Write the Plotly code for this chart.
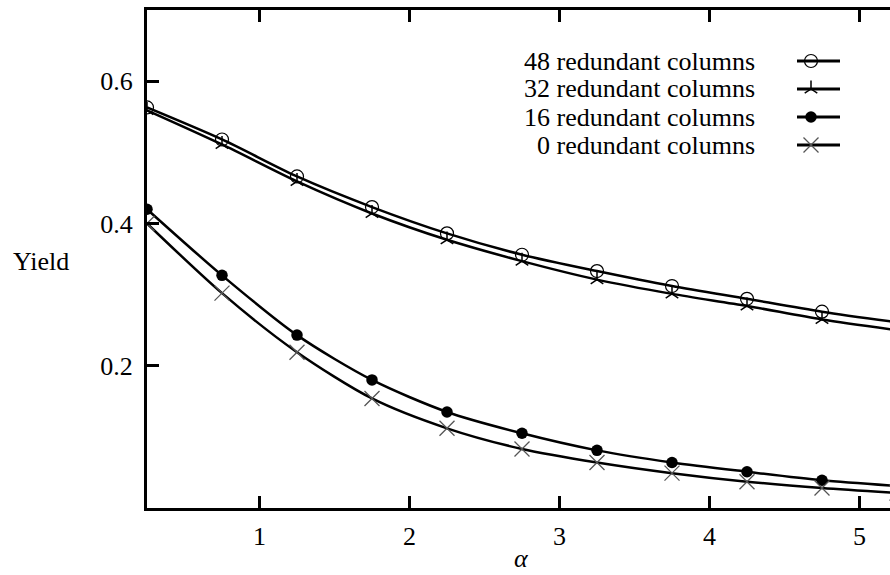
import plotly.graph_objects as go

# ---- data ----
alpha = [0.25, 0.75, 1.25, 1.75, 2.25, 2.75, 3.25, 3.75, 4.25, 4.75, 5.25]
yield_48 = [0.563, 0.518, 0.466, 0.423, 0.386, 0.356, 0.333, 0.312, 0.294, 0.276, 0.261]
yield_32 = [0.559, 0.511, 0.459, 0.414, 0.377, 0.347, 0.321, 0.301, 0.284, 0.265, 0.250]
yield_16 = [0.420, 0.327, 0.243, 0.180, 0.135, 0.105, 0.081, 0.064, 0.051, 0.039, 0.031]
yield_0 = [0.400, 0.302, 0.219, 0.154, 0.112, 0.083, 0.064, 0.049, 0.037, 0.028, 0.021]
series_names = ["48 redundant columns", "32 redundant columns",
                "16 redundant columns", "0 redundant columns"]
x_ticks = [1, 2, 3, 4, 5]
y_ticks = [0.2, 0.4, 0.6]

# ---- layout constants (pixels) ----
W, H = 890, 575
L, T, B = 147, 10, 67
PW, PH = W - L, H - T - B
X0 = 0.25
PX_PER_X = 150.0
x_range = [X0, X0 + PW / PX_PER_X]
y_range = [0, 0.7]
FONT = "Liberation Serif, Times New Roman, Times, serif"
FS = 26

def px2paper_x(px):
    return (px - L) / PW

def px2paper_y(py):
    return (H - B - py) / PH

styles = [
    dict(symbol="circle-open", size=13, color="black", line=dict(color="black", width=1.2)),
    dict(symbol="y-up", size=10.5, color="black", line=dict(color="black", width=1.5)),
    dict(symbol="circle", size=11.5, color="black", line=dict(color="black", width=0)),
    dict(symbol="x-thin", size=15, color="#555555", line=dict(color="#555555", width=1.3)),
]
series = [yield_48, yield_32, yield_16, yield_0]

fig = go.Figure()
for name, ys, st in zip(series_names, series, styles):
    fig.add_trace(go.Scatter(
        x=alpha, y=ys, mode="lines+markers", name=name,
        line=dict(color="black", width=2.5, shape="spline", smoothing=0.8),
        marker=st, showlegend=False,
    ))

# ---- custom gnuplot-style key (text then sample) ----
key_rows_y = [61, 89, 117, 145]
key_text_right = 757
key_line = (797, 840)
key_marker_x = 811
for name, st, ry in zip(series_names, styles, key_rows_y):
    fig.add_annotation(
        x=px2paper_x(key_text_right), y=px2paper_y(ry), xref="paper", yref="paper",
        text=name, showarrow=False, xanchor="right", yanchor="middle",
        font=dict(family=FONT, size=FS, color="black"),
    )
    fig.add_trace(go.Scatter(
        x=[px2paper_x(key_line[0]), px2paper_x(key_line[1])],
        y=[px2paper_y(ry), px2paper_y(ry)],
        mode="lines", line=dict(color="black", width=3),
        xaxis="x3", yaxis="y3", showlegend=False, hoverinfo="skip",
    ))
    fig.add_trace(go.Scatter(
        x=[px2paper_x(key_marker_x)], y=[px2paper_y(ry)],
        mode="markers", marker=st,
        xaxis="x3", yaxis="y3", showlegend=False, hoverinfo="skip",
    ))

# axis labels
fig.add_annotation(x=px2paper_x(11), y=px2paper_y(261), xref="paper", yref="paper",
                   text="Yield", showarrow=False, xanchor="left", yanchor="middle",
                   font=dict(family=FONT, size=FS, color="black"))
fig.add_annotation(x=px2paper_x(521), y=px2paper_y(575), xref="paper", yref="paper",
                   text="<i>α</i>", showarrow=False, xanchor="center", yanchor="bottom",
                   font=dict(family=FONT, size=FS, color="black"))

fig.update_layout(
    width=W, height=H,
    margin=dict(l=L, r=0, t=T, b=B, autoexpand=False),
    paper_bgcolor="white", plot_bgcolor="white",
    font=dict(family=FONT, size=FS, color="black"),
    showlegend=False,
    xaxis=dict(range=x_range, tickvals=x_ticks, ticktext=[str(v) for v in x_ticks],
               showgrid=False, zeroline=False, showline=True, linecolor="black",
               linewidth=3, mirror="ticks", ticks="inside", ticklen=12, tickwidth=2.5,
               tickcolor="black", ticklabelstandoff=3,
               tickfont=dict(family=FONT, size=FS, color="black")),
    yaxis=dict(range=y_range, tickvals=y_ticks, ticktext=[str(v) for v in y_ticks],
               showgrid=False, zeroline=False, showline=True, linecolor="black",
               linewidth=3, mirror=False, ticks="inside", ticklen=12, tickwidth=2.5,
               tickcolor="black", ticklabelstandoff=6,
               tickfont=dict(family=FONT, size=FS, color="black")),
    yaxis2=dict(range=y_range, tickvals=y_ticks, overlaying="y", side="right",
                showgrid=False, zeroline=False, showline=False, showticklabels=False,
                ticks="inside", ticklen=7, tickwidth=2.5, tickcolor="black",
                automargin=False),
    xaxis3=dict(range=[0, 1], overlaying="x", visible=False, fixedrange=True),
    yaxis3=dict(range=[0, 1], overlaying="y", visible=False, fixedrange=True),
)

fig.write_html("out.html")
